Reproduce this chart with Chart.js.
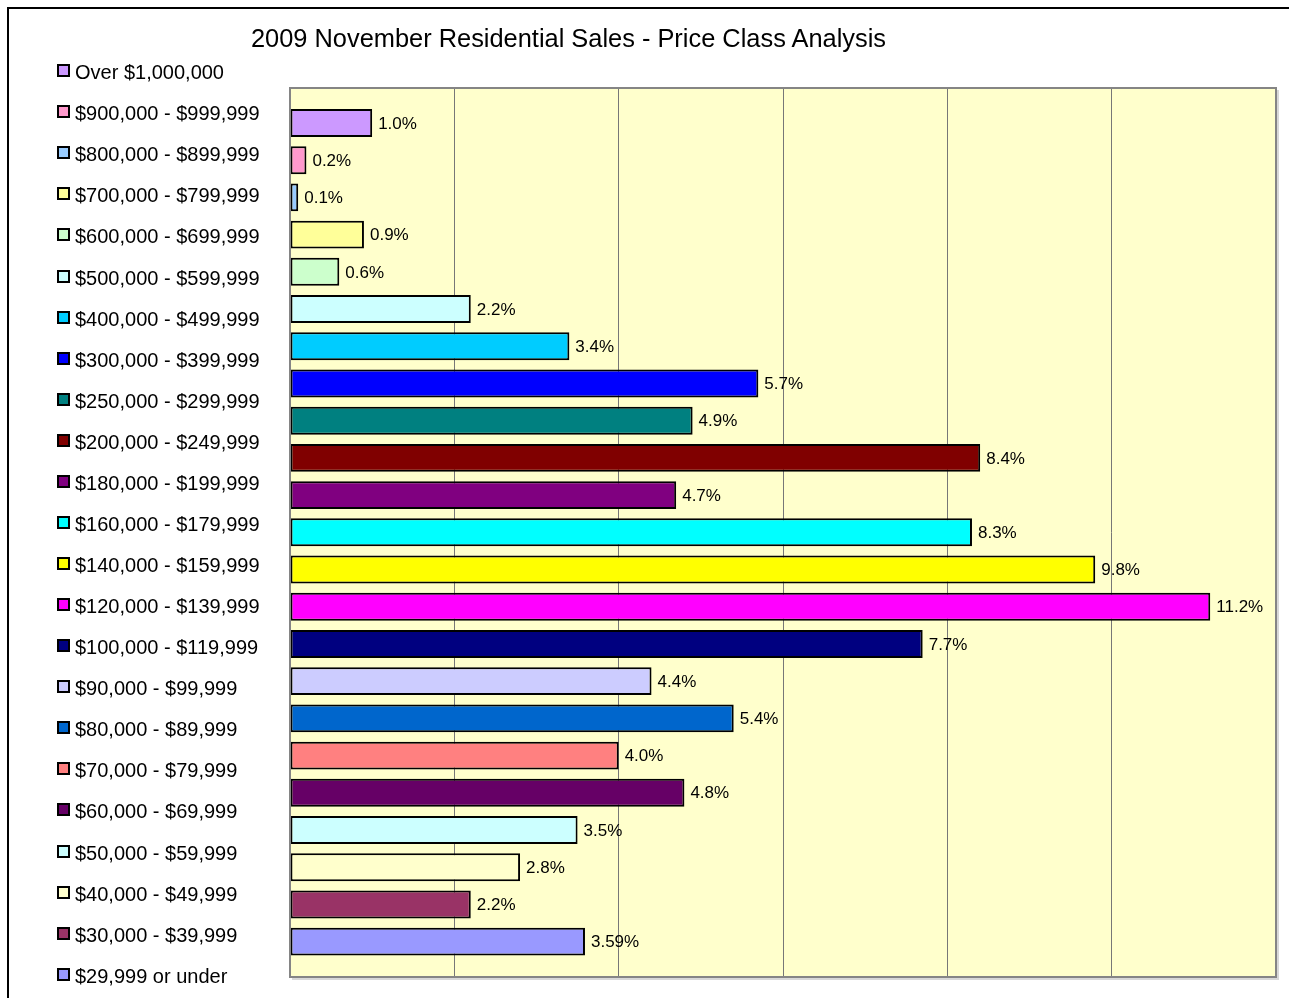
<!DOCTYPE html>
<html>
<head>
<meta charset="utf-8">
<script src="https://cdn.jsdelivr.net/npm/chart.js@4.4.1/dist/chart.umd.min.js"></script>
<style>
html, body { margin: 0; padding: 0; background: #fff; width: 1289px; height: 998px; overflow: hidden; }
#frame { position: absolute; left: 7px; top: 7px; width: 1320px; height: 1020px; border-top: 2px solid #000; border-left: 2px solid #000; }
#title { position: absolute; left: 0; top: 23px; width: 1137px; text-align: center; font: 25.4px/30px 'Liberation Sans', Arial, sans-serif; color: #000; white-space: nowrap; }
.item { position: absolute; left: 57px; height: 20px; font: 20px/20px 'Liberation Sans', Arial, sans-serif; color: #000; white-space: nowrap; }
.box { position: absolute; left: 0; top: 2px; width: 9px; height: 9px; border: 2px solid #000; }
.txt { position: absolute; left: 18px; top: 0; }
canvas { position: absolute; left: 0; top: 0; }
</style>
</head>
<body>
<div id="frame"></div>
<canvas id="c" width="1289" height="998"></canvas>
<div id="title"></div>
<div id="legend"></div>
<script>
// ---- data ----
const categories = [
  "Over $1,000,000",
  "$900,000 - $999,999",
  "$800,000 - $899,999",
  "$700,000 - $799,999",
  "$600,000 - $699,999",
  "$500,000 - $599,999",
  "$400,000 - $499,999",
  "$300,000 - $399,999",
  "$250,000 - $299,999",
  "$200,000 - $249,999",
  "$180,000 - $199,999",
  "$160,000 - $179,999",
  "$140,000 - $159,999",
  "$120,000 - $139,999",
  "$100,000 - $119,999",
  "$90,000 - $99,999",
  "$80,000 - $89,999",
  "$70,000 - $79,999",
  "$60,000 - $69,999",
  "$50,000 - $59,999",
  "$40,000 - $49,999",
  "$30,000 - $39,999",
  "$29,999 or under"
];
const shares = [1.0, 0.2, 0.1, 0.9, 0.6, 2.2, 3.4, 5.7, 4.9, 8.4, 4.7, 8.3, 9.8, 11.2, 7.7, 4.4, 5.4, 4.0, 4.8, 3.5, 2.8, 2.2, 3.59];
const colors = [
  "#CC99FF", "#FF99CC", "#99CCFF", "#FFFF99", "#CCFFCC", "#CCFFFF", "#00CCFF", "#0000FF",
  "#008080", "#800000", "#800080", "#00FFFF", "#FFFF00", "#FF00FF", "#000080", "#CCCCFF",
  "#0066CC", "#FF8080", "#660066", "#CCFFFF", "#FFFFCC", "#993366", "#9999FF"
];
const xTickValues = [0, 2, 4, 6, 8, 10, 12];
const title = "2009 November Residential Sales - Price Class Analysis";

// ---- legend (HTML) ----
const legend = document.getElementById('legend');
categories.forEach((name, i) => {
  const it = document.createElement('div');
  it.className = 'item';
  it.style.top = (62.2 + 41.07 * i) + 'px';
  const b = document.createElement('div');
  b.className = 'box';
  b.style.background = colors[i];
  const t = document.createElement('span');
  t.className = 'txt';
  t.textContent = name;
  it.appendChild(b); it.appendChild(t);
  legend.appendChild(it);
});
document.getElementById('title').textContent = title;

function fmt(v) {
  const t = v * 10;
  return (Math.abs(t - Math.round(t)) < 1e-9 ? v.toFixed(1) : v.toFixed(2)) + '%';
}

const FONT = "'Liberation Sans', Arial, sans-serif";
const Y_MIN = -0.94, Y_MAX = 22.95;

const plotBox = {
  id: 'plotBox',
  beforeDraw(chart) {
    const { ctx, chartArea: a } = chart;
    ctx.save();
    ctx.fillStyle = '#FFFFCC';
    ctx.fillRect(a.left, a.top, a.right - a.left, a.bottom - a.top);
    ctx.restore();
  },
  afterDatasetsDraw(chart) {
    const { ctx, chartArea: a } = chart;
    ctx.save();
    ctx.strokeStyle = '#d8d8d8';
    ctx.lineWidth = 2;
    ctx.beginPath();
    ctx.moveTo(a.right + 2, a.top + 2); ctx.lineTo(a.right + 2, a.bottom + 2); ctx.lineTo(a.left + 2, a.bottom + 2);
    ctx.stroke();
    ctx.strokeStyle = '#858585';
    ctx.lineWidth = 2;
    ctx.strokeRect(a.left, a.top, a.right - a.left, a.bottom - a.top);
    const meta = chart.getDatasetMeta(0);
    ctx.fillStyle = '#000';
    ctx.font = '17px ' + FONT;
    ctx.textBaseline = 'middle';
    ctx.textAlign = 'left';
    meta.data.forEach((el, i) => {
      ctx.fillText(fmt(shares[i]), el.x + 6, el.y + 1);
    });
    ctx.restore();
  }
};

new Chart(document.getElementById('c'), {
  type: 'bar',
  data: {
    labels: categories,
    datasets: [{
      data: shares.map((v, i) => ({ x: v, y: i })),
      backgroundColor: colors,
      borderColor: '#000',
      borderWidth: 2,
      borderSkipped: false,
      categoryPercentage: 1,
      barPercentage: 0.75
    }]
  },
  options: {
    indexAxis: 'y',
    responsive: false,
    animation: false,
    devicePixelRatio: 1,
    layout: { padding: { left: 290, top: 88, right: 13, bottom: 21 } },
    scales: {
      x: {
        type: 'linear', min: xTickValues[0], max: xTickValues[xTickValues.length - 1], position: 'bottom',
        afterBuildTicks: (s) => { s.ticks = xTickValues.map(v => ({ value: v })); },
        ticks: { display: false },
        grid: { color: '#777', lineWidth: 1, drawTicks: false },
        border: { display: false }
      },
      y: {
        type: 'linear', min: Y_MIN, max: Y_MAX, reverse: true, display: false,
        offset: false, bounds: 'data', grace: 0,
        grid: { offset: false },
        afterDataLimits: (s) => { s.min = Y_MIN; s.max = Y_MAX; },
        afterBuildTicks: (s) => { s.ticks = [{ value: Y_MIN }, { value: Y_MAX }]; s.min = Y_MIN; s.max = Y_MAX; }
      }
    },
    plugins: { legend: { display: false }, tooltip: { enabled: false }, title: { display: false } }
  },
  plugins: [plotBox]
});
</script>
</body>
</html>
